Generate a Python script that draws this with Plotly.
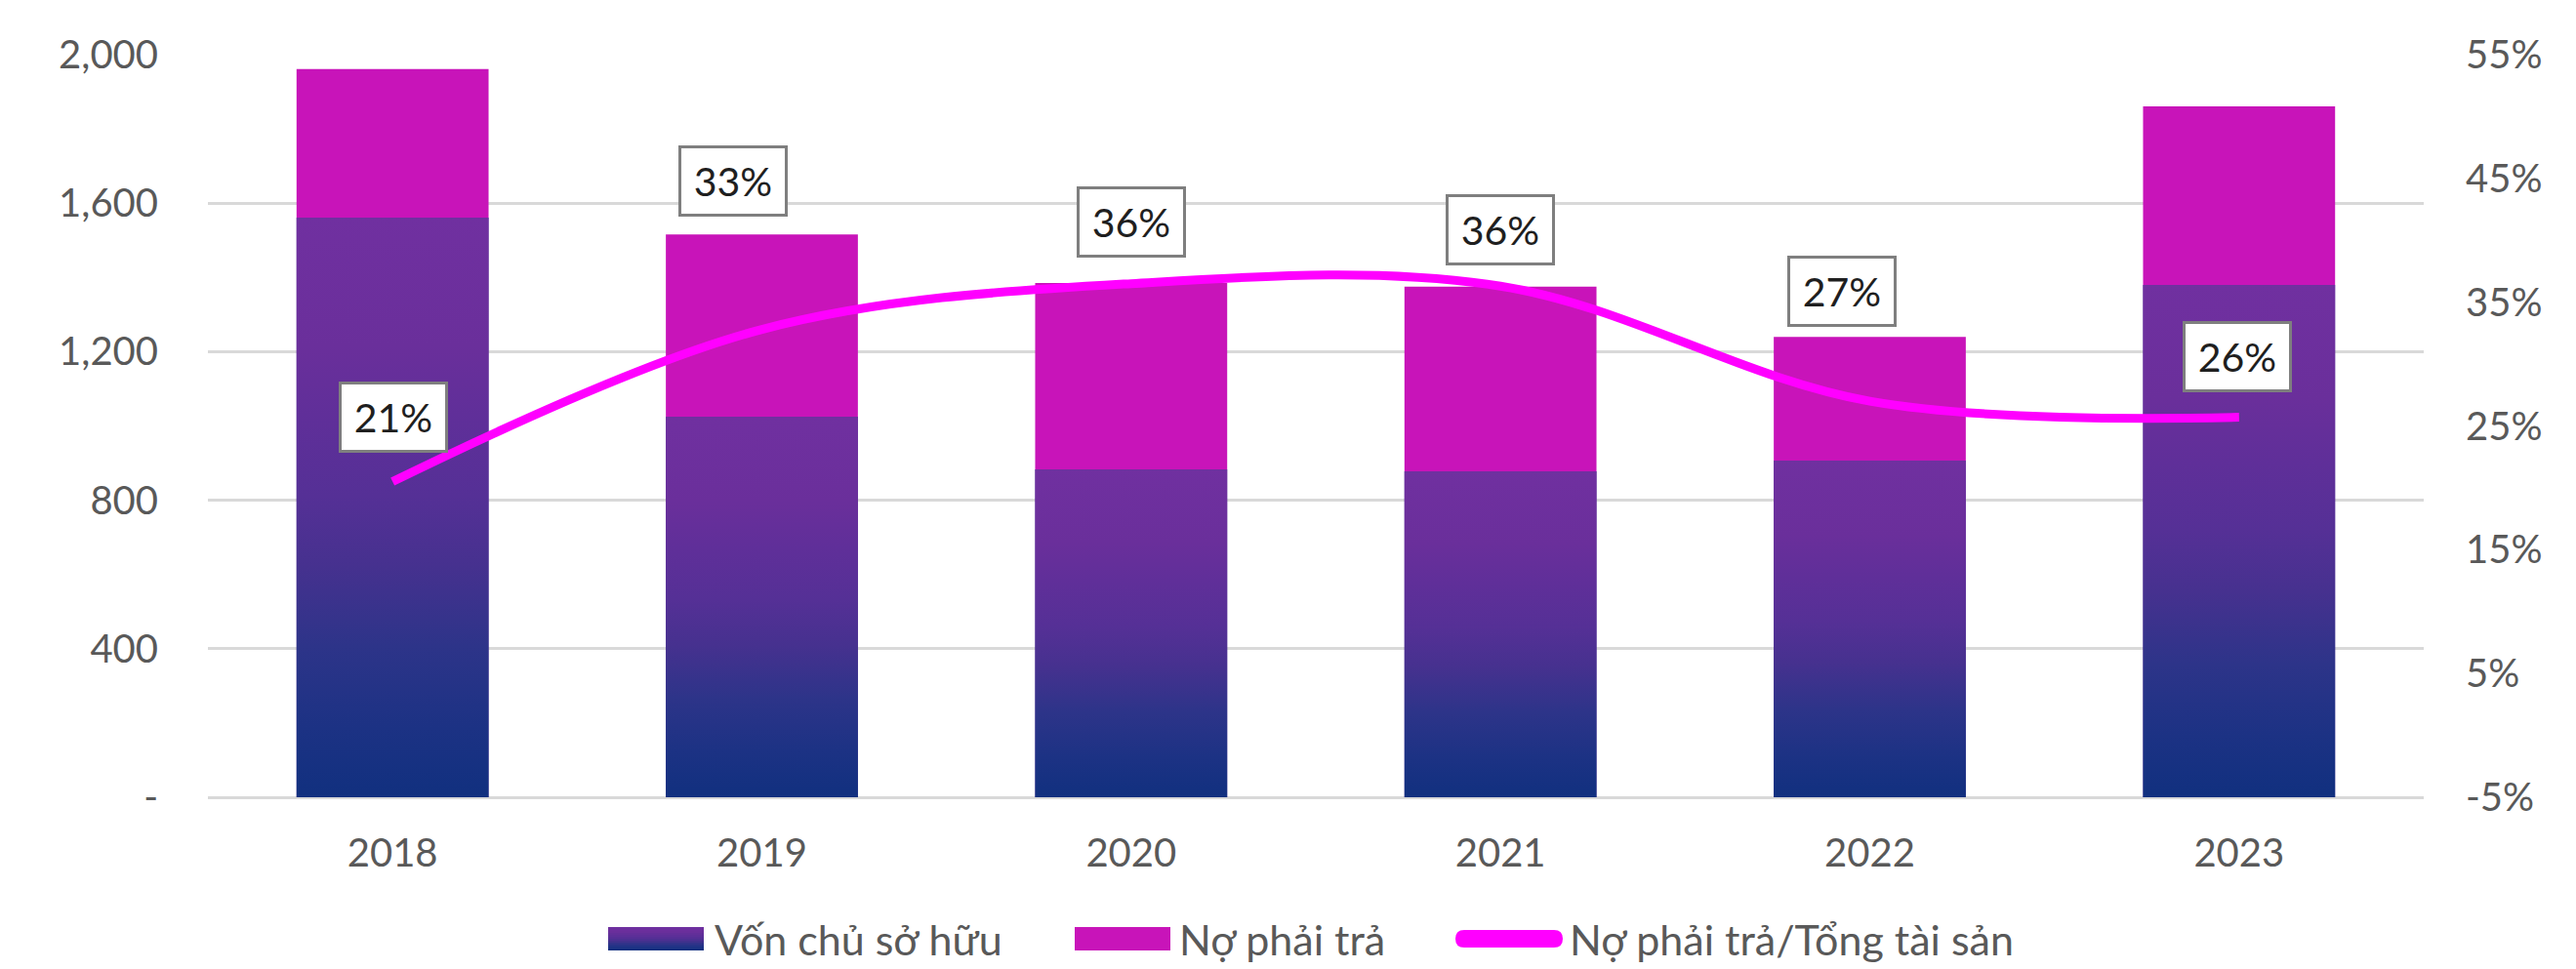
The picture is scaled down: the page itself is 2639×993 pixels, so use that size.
import plotly.graph_objects as go

# ---------------- data ----------------
years = ["2018", "2019", "2020", "2021", "2022", "2023"]
equity = [1561, 1025, 883, 878, 907, 1380]          # Vốn chủ sở hữu
debt = [400, 491, 502, 497, 333, 481]               # Nợ phải trả
debt_ratio = [0.205, 0.328, 0.365, 0.363, 0.270, 0.257]  # Nợ phải trả/Tổng tài sản
ratio_labels = ["21%", "33%", "36%", "36%", "27%", "26%"]
left_tickvals = [0, 400, 800, 1200, 1600, 2000]
left_ticktext = ["-", "400", "800", "1,200", "1,600", "2,000"]
right_tickvals = [-0.05, 0.05, 0.15, 0.25, 0.35, 0.45, 0.55]
right_ticktext = ["-5%", "5%", "15%", "25%", "35%", "45%", "55%"]
legend_names = ["Vốn chủ sở hữu", "Nợ phải trả", "Nợ phải trả/Tổng tài sản"]

# ---------------- style ----------------
W, H = 2639, 993
ML, MR, MT, MB = 213, 156, 56, 176
PW, PH = W - ML - MR, H - MT - MB
FONT = "Lato"
TICK_COLOR = "#595959"
GRID_COLOR = "#D9D9D9"
DEBT_COLOR = "#C814B9"
LINE_COLOR = "#FF00FF"
BAR_W = 0.52
GRAD = [[0.0, "#11307F"], [0.12, "#1C3284"], [0.26, "#2D3489"], [0.40, "#46318F"],
        [0.52, "#553096"], [0.65, "#5F2F99"], [0.78, "#6A2F9B"], [1.0, "#7030A0"]]
label_dx = [1, -30, 0, 0, -29, -2]
label_dy = [66, 152, 63, 58, 113, 62]
LEG_Y = 962          # vertical centre of the legend row (px from top)

idx = list(range(len(years)))


def px_x(p):
    return (p - ML) / PW


def px_y(p):
    return (H - MB - p) / PH


def hex2rgb(h):
    h = h.lstrip("#")
    return tuple(int(h[i:i + 2], 16) for i in (0, 2, 4))


def grad_color(t):
    for (a, ca), (b, cb) in zip(GRAD[:-1], GRAD[1:]):
        if a <= t <= b:
            f = (t - a) / (b - a) if b > a else 0
            r1, g1, b1 = hex2rgb(ca)
            r2, g2, b2 = hex2rgb(cb)
            return "rgb(%d,%d,%d)" % (r1 + (r2 - r1) * f, g1 + (g2 - g1) * f, b1 + (b2 - b1) * f)
    return GRAD[-1][1]


fig = go.Figure()

# equity bars (base colour) and debt bars stacked on top
fig.add_trace(go.Bar(x=idx, y=equity, width=BAR_W, marker=dict(color="#55309A", line=dict(width=0)),
                     name=legend_names[0], showlegend=False))
fig.add_trace(go.Bar(x=idx, y=debt, base=equity, width=BAR_W,
                     marker=dict(color=DEBT_COLOR, line=dict(width=0)),
                     name=legend_names[1], showlegend=False))

# gradient fill for the equity bars
for i, e in zip(idx, equity):
    fig.add_trace(go.Scatter(
        x=[i - BAR_W / 2, i + BAR_W / 2, i + BAR_W / 2, i - BAR_W / 2, i - BAR_W / 2],
        y=[0, 0, e, e, 0], mode="lines", line=dict(width=0), fill="toself",
        fillgradient=dict(type="vertical", colorscale=GRAD),
        hoverinfo="skip", showlegend=False))

# ratio line on secondary axis
fig.add_trace(go.Scatter(x=idx, y=debt_ratio, yaxis="y2", mode="lines",
                         line=dict(color=LINE_COLOR, width=9, shape="spline", smoothing=1.0),
                         name=legend_names[2], showlegend=False))

annotations = []
for i, r, t, dx, dy in zip(idx, debt_ratio, ratio_labels, label_dx, label_dy):
    annotations.append(dict(
        x=i, y=r, xref="x", yref="y2", text=t, showarrow=False,
        xshift=dx, yshift=dy, xanchor="center", yanchor="middle",
        font=dict(family=FONT, size=41, color="#1F1F1F"),
        bgcolor="white", bordercolor="#7F7F7F", borderwidth=3, borderpad=1,
        width=104, height=65))

# manual legend at the bottom
shapes = []
n_strips = 12
x0, x1 = px_x(623), px_x(721)
top, bot = LEG_Y - 12, LEG_Y + 12
for k in range(n_strips):
    ya = bot - (bot - top) * k / n_strips
    yb = bot - (bot - top) * (k + 1) / n_strips
    shapes.append(dict(type="rect", xref="paper", yref="paper", x0=x0, x1=x1,
                       y0=px_y(ya), y1=px_y(yb), fillcolor=grad_color((k + 0.5) / n_strips),
                       line=dict(width=0), layer="above"))
shapes.append(dict(type="rect", xref="paper", yref="paper", x0=px_x(1101), x1=px_x(1199),
                   y0=px_y(bot), y1=px_y(top), fillcolor=DEBT_COLOR, line=dict(width=0)))
shapes.append(dict(type="path", xref="paper", yref="paper", xsizemode="pixel", ysizemode="pixel",
                   xanchor=px_x(1546), yanchor=px_y(LEG_Y),
                   path="M-46,-9 L46,-9 Q55,-9 55,0 Q55,9 46,9 L-46,9 Q-55,9 -55,0 Q-55,-9 -46,-9 Z",
                   fillcolor=LINE_COLOR, line=dict(width=0)))

for name, xs in zip(legend_names, [730, 1206, 1606]):
    annotations.append(dict(x=px_x(xs), y=px_y(LEG_Y), xref="paper", yref="paper", text=name,
                            showarrow=False, xanchor="left", yanchor="middle",
                            font=dict(family=FONT, size=43, color=TICK_COLOR)))

fig.update_layout(
    width=W, height=H, autosize=False,
    margin=dict(l=ML, r=MR, t=MT, b=MB, pad=0),
    paper_bgcolor="white", plot_bgcolor="white",
    barmode="overlay", showlegend=False,
    font=dict(family=FONT, size=40, color=TICK_COLOR),
    xaxis=dict(range=[-0.5, 5.5], tickvals=idx, ticktext=years, showgrid=False,
               zeroline=False, showline=False, ticks="", ticklabelstandoff=30,
               tickfont=dict(family=FONT, size=40, color=TICK_COLOR), fixedrange=True),
    yaxis=dict(range=[0, 2000], tickvals=left_tickvals, ticktext=left_ticktext,
               showgrid=True, gridcolor=GRID_COLOR, gridwidth=3,
               zeroline=True, zerolinecolor=GRID_COLOR, zerolinewidth=3,
               showline=False, ticks="", ticklabelstandoff=50,
               tickfont=dict(family=FONT, size=40, color=TICK_COLOR)),
    yaxis2=dict(range=[-0.05, 0.55], tickvals=right_tickvals, ticktext=right_ticktext,
                overlaying="y", side="right", showgrid=False, zeroline=False, showline=False,
                ticks="", ticklabelstandoff=42,
                tickfont=dict(family=FONT, size=40, color=TICK_COLOR)),
    annotations=annotations, shapes=shapes,
)

fig.write_html("out.html", config={"displayModeBar": False},
               post_script="document.body.style.margin='0';document.body.style.overflow='hidden';")
